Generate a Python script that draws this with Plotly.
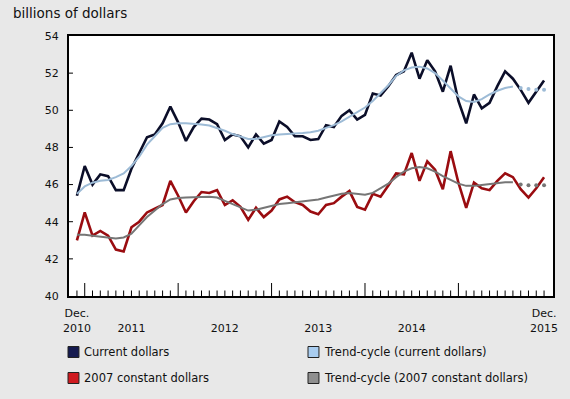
import plotly.graph_objects as go
import pandas as pd

# ---- data (billions of dollars), monthly Dec 2010 .. Dec 2015 ----
months = [d.strftime('%b %Y') for d in pd.date_range('2010-12-01', periods=61, freq='MS')]

current_dollars = [45.4, 47.0, 46.0, 46.55, 46.45, 45.7, 45.7, 46.85, 47.7, 48.55,
                   48.7, 49.3, 50.2, 49.35, 48.35, 49.1, 49.55, 49.5, 49.25, 48.4,
                   48.7, 48.6, 48.0, 48.7, 48.2, 48.4, 49.4, 49.1, 48.6, 48.6,
                   48.4, 48.45, 49.2, 49.1, 49.7, 50.0, 49.5, 49.75, 50.9, 50.8,
                   51.3, 51.9, 52.1, 53.1, 51.7, 52.7, 52.1, 51.0, 52.4, 50.5,
                   49.3, 50.85, 50.1, 50.4, 51.3, 52.1, 51.7, 51.1, 50.4, 51.0,
                   51.6]

trend_current = [45.5, 45.9, 46.1, 46.2, 46.25, 46.4, 46.6, 47.0, 47.5, 48.15,
                 48.6, 49.05, 49.25, 49.3, 49.3, 49.28, 49.24, 49.18, 49.06, 48.9,
                 48.72, 48.6, 48.45, 48.45, 48.55, 48.65, 48.7, 48.72, 48.75, 48.78,
                 48.82, 48.9, 49.05, 49.2, 49.4, 49.65, 49.9, 50.15, 50.5, 50.9,
                 51.35, 51.85, 52.15, 52.3, 52.35, 52.25, 52.0, 51.6, 51.15, 50.75,
                 50.5, 50.45, 50.6, 50.85, 51.05, 51.2, 51.28, 51.2, 51.15, 51.1,
                 51.1]

constant_2007 = [43.0, 44.5, 43.25, 43.5, 43.25, 42.5, 42.4, 43.7, 44.0, 44.5,
                 44.7, 44.9, 46.2, 45.4, 44.5, 45.1, 45.6, 45.55, 45.7, 44.9,
                 45.15, 44.8, 44.1, 44.75, 44.25, 44.6, 45.2, 45.35, 45.05, 44.9,
                 44.55, 44.4, 44.9, 45.0, 45.35, 45.65, 44.8, 44.65, 45.5, 45.35,
                 45.95, 46.6, 46.55, 47.7, 46.2, 47.25, 46.8, 45.75, 47.8, 46.1,
                 44.75, 46.1, 45.8, 45.7, 46.2, 46.6, 46.4, 45.75, 45.3, 45.8,
                 46.4]

trend_constant = [43.3, 43.3, 43.25, 43.2, 43.15, 43.1, 43.15, 43.35, 43.8, 44.25,
                  44.6, 44.95, 45.2, 45.28, 45.3, 45.3, 45.33, 45.35, 45.3, 45.12,
                  44.95, 44.8, 44.6, 44.65, 44.75, 44.85, 44.95, 45.0, 45.05, 45.1,
                  45.15, 45.2, 45.3, 45.4, 45.5, 45.55, 45.5, 45.45, 45.55, 45.8,
                  46.05, 46.4, 46.7, 46.88, 46.95, 46.88, 46.7, 46.45, 46.25, 46.05,
                  45.93, 45.93, 45.98, 46.03, 46.08, 46.12, 46.12, 46.0, 45.97, 45.96,
                  45.96]

last_solid_trend = 56   # trend-cycle is dotted after this month (Aug 2015)

y_ticks = [40, 42, 44, 46, 48, 50, 52, 54]
legend_labels = ["Current dollars", "Trend-cycle (current dollars)",
                 "2007 constant dollars", "Trend-cycle (2007 constant dollars)"]
y_title = "billions of dollars"

# ---- styles ----
FONT = "DejaVu Sans"
C_CUR = "#0b0e29"
C_CON = "#9a0c10"
C_TCUR = "#9dbbd6"
C_TCON = "#767676"
W, H = 570, 399
ML, MR, MT, MB = 69, 15, 36, 103
PW, PH = W - ML - MR, H - MT - MB

x = list(range(len(months)))
jan_idx = [i for i, m in enumerate(months) if m.startswith('Jan')]
last_year = months[-1].split()[1]
ticktext = []
for i, m in enumerate(months):
    mon, yr = m.split()
    if i == 0 or i == len(months) - 1:
        ticktext.append(f"{mon}.<br>{yr}")
    elif mon == 'Jul' and yr != last_year:
        ticktext.append(f" <br>{yr}")
    else:
        ticktext.append("")

fig = go.Figure()
fig.add_trace(go.Scatter(x=x, y=current_dollars, mode='lines', text=months,
                         line=dict(color=C_CUR, width=2.6), showlegend=False))
fig.add_trace(go.Scatter(x=x, y=constant_2007, mode='lines', text=months,
                         line=dict(color=C_CON, width=2.6), showlegend=False))
n = last_solid_trend + 1
fig.add_trace(go.Scatter(x=x[:n], y=trend_current[:n], mode='lines',
                         line=dict(color=C_TCUR, width=2), showlegend=False))
fig.add_trace(go.Scatter(x=x[n:], y=trend_current[n:], mode='markers',
                         marker=dict(color=C_TCUR, size=4), showlegend=False))
fig.add_trace(go.Scatter(x=x[:n], y=trend_constant[:n], mode='lines',
                         line=dict(color=C_TCON, width=2), showlegend=False))
fig.add_trace(go.Scatter(x=x[n:], y=trend_constant[n:], mode='markers',
                         marker=dict(color=C_TCON, size=4), showlegend=False))

xr = [-1.02, 61.15]
fig.update_layout(
    width=W, height=H,
    margin=dict(l=ML, r=MR, t=MT, b=MB),
    paper_bgcolor="#e8e8e8", plot_bgcolor="white",
    font=dict(family=FONT, size=11, color="#111111"),
    xaxis=dict(range=xr, tickmode='array', tickvals=x, ticktext=ticktext,
               ticks='', showline=True, linewidth=2, linecolor='black', mirror=True,
               showgrid=False, zeroline=False, ticklabelstandoff=6,
               tickfont=dict(size=11)),
    yaxis=dict(range=[y_ticks[0], y_ticks[-1]], tickmode='array', tickvals=y_ticks,
               ticks='', showline=True, linewidth=2,
               linecolor='black', mirror=True, showgrid=False, zeroline=False,
               ticklabelstandoff=6, tickfont=dict(size=11)),
    hovermode=False,
)

# tick marks drawn inside the plot: monthly (short) and January (long)
for i in x:
    ln = 13 if i in jan_idx else 5.5
    fig.add_shape(type='line', xref='x', yref='paper', x0=i, x1=i,
                  y0=0, y1=ln / PH, line=dict(color='black', width=1), layer='above')
for v in y_ticks[1:-1]:
    fig.add_shape(type='line', xref='paper', yref='y', x0=0, x1=4 / PW,
                  y0=v, y1=v, line=dict(color='black', width=1), layer='above')

def px_x(px):
    return (px - ML) / PW

def px_y(py):
    return (MT + PH - py) / PH

fig.add_annotation(text=y_title, xref='paper', yref='paper', x=px_x(11), y=px_y(13),
                   xanchor='left', yanchor='middle', showarrow=False,
                   font=dict(size=13.5, family=FONT, color="#111111"))

legend_pos = [(68, 352), (309, 352), (68, 378), (309, 378)]
legend_fill = ["#151a4f", "#a9cdf0", "#cf1a20", "#8f8f8f"]
for (lx, ly), lab, col in zip(legend_pos, legend_labels, legend_fill):
    fig.add_shape(type='rect', xref='paper', yref='paper',
                  x0=px_x(lx), x1=px_x(lx + 11), y0=px_y(ly + 5.5), y1=px_y(ly - 5.5),
                  fillcolor=col, line=dict(color="#222222", width=1))
    fig.add_annotation(text=lab, xref='paper', yref='paper', x=px_x(lx + 14), y=px_y(ly),
                       xanchor='left', yanchor='middle', showarrow=False,
                       font=dict(size=11.5, family=FONT, color="#111111"))

fig.write_html("out.html", config={'displayModeBar': False},
               post_script="document.body.style.margin='0';"
                           "document.body.style.background='#e8e8e8';")
